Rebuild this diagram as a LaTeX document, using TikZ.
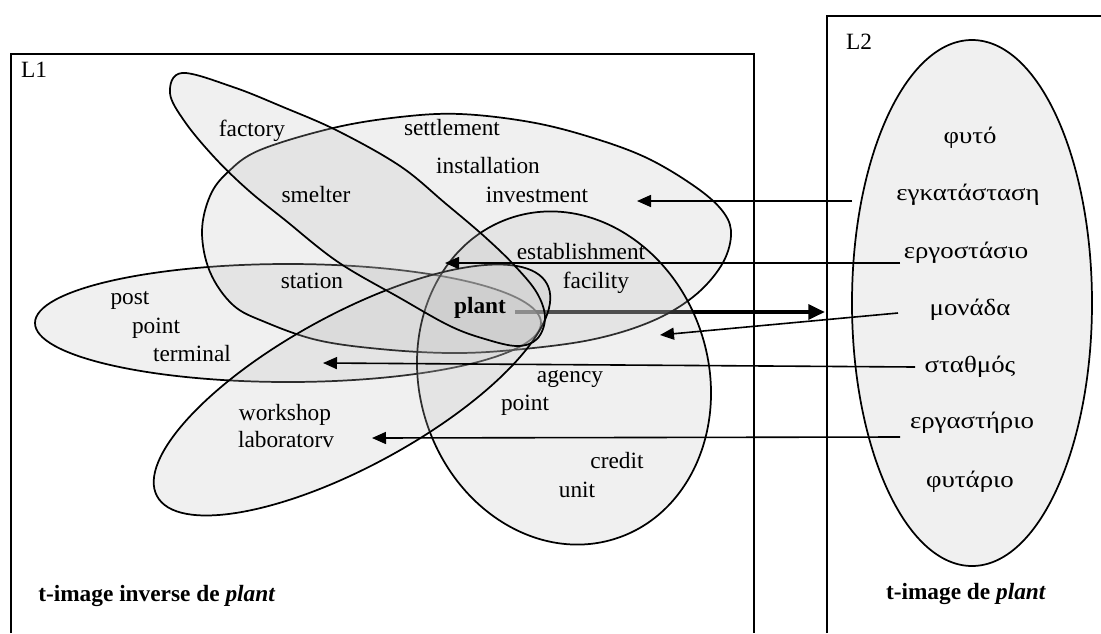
\documentclass[tikz,border=0pt]{standalone}
\usepackage{fontspec}
\setmainfont{Liberation Serif}
\newfontfamily\greekfont{Liberation Serif}[FakeStretch=1.15]
\usetikzlibrary{arrows.meta}
\begin{document}
\begin{tikzpicture}[x=0.75pt,y=-0.75pt,
  word/.style={inner sep=0pt, anchor=base, font=\fontsize{17.5}{20}\selectfont},
  gword/.style={inner sep=0pt, anchor=base, font=\greekfont\fontsize{17.5}{20}\selectfont},
  region/.style={draw=black, line width=1.3pt, fill=black!25, fill opacity=0.24},
  frame/.style={line width=1.5pt},
  link/.style={line width=1.2pt, -{Triangle[length=10.5pt,width=9pt]}},
  mainlink/.style={line width=3pt, -{Triangle[length=12.5pt,width=11pt]}}]
\useasboundingbox (0,0) rectangle (1101,633);
% frames
\draw[frame] (11,633) -- (11,54) -- (754,54) -- (754,633);
\draw[frame] (827,633) -- (827,16) -- (1101,16);
% main arrow (under the regions)
\coordinate (pstart) at (515,312);
\coordinate (pend) at (825,312);
\draw[mainlink] (pstart) -- (pend);
% regions
\draw[region] (288,323) ellipse [x radius=253, y radius=59];
\draw[region] plot[smooth cycle, tension=0.6] coordinates {(202,232) (210,196) (228,172) (260,150) (333,128) (400,117) (460,114) (530,122) (590,137) (647,158) (697,188) (724,213) (731,236) (721,266) (693,297) (650,322) (590,340) (513,350) (450,353) (380,349) (317,340) (265,322) (233,305) (210,272)};
\draw[region, rotate around={18:(564,378)}] (564,378) ellipse [x radius=144.5, y radius=168.7];
\draw[region, rotate around={28.6:(352,390)}] (352,390) ellipse [x radius=222, y radius=76];
\draw[region] plot[smooth cycle, tension=0.6] coordinates {(182,73) (233,87) (283,107) (338,131) (400,166) (445,203) (485,237) (515,266) (537,293) (545,318) (537,339) (517,346) (485,339) (450,326) (400,298) (338,262) (285,220) (248,190) (215,158) (185,122) (170,93)};
\draw[region] (972,303) ellipse [x radius=120, y radius=263];
% labels L1
\node[word] (L1) at (34,77) {L1};
\node[word] (L2) at (859,49) {L2};
\node[word] (factory) at (252,136) {factory};
\node[word] (settlement) at (452,135) {settlement};
\node[word] (installation) at (488,173) {installation};
\node[word] (investment) at (537,202) {investment};
\node[word] (smelter) at (316,202) {smelter};
\node[word] (station) at (312,288) {station};
\node[word] (establishment) at (581,259) {establishment};
\node[word] (facility) at (596,288) {facility};
\node[word, font=\fontsize{17.5}{20}\selectfont\bfseries] (plant) at (480,313) {plant};
\node[word] (post) at (130,304) {post};
\node[word] (point1) at (156,333) {point};
\node[word] (terminal) at (192,361) {terminal};
\node[word] (workshop) at (285,420) {workshop};
\node[word] (laboratory) at (286,447) {laboratorv};
\node[word] (agency) at (570,382) {agency};
\node[word] (point2) at (525,410) {point};
\node[word] (credit) at (617,468) {credit};
\node[word] (unit) at (577,497) {unit};
\node[word, anchor=base west, font=\fontsize{17.5}{20}\selectfont\bfseries] (inv) at (38,601) {t-image inverse de \textit{plant}};
\node[word, font=\fontsize{17.5}{20}\selectfont\bfseries] (img) at (966,599) {t-image de \textit{plant}};
% labels L2
\node[gword] (g1) at (970,143) {φυτό};
\node[gword] (g2) at (968,200) {εγκατάσταση};
\node[gword] (g3) at (966,258) {εργοστάσιο};
\node[gword] (g4) at (970,315) {μονάδα};
\node[gword] (g5) at (970,372) {σταθμός};
\node[gword] (g6) at (972,428) {εργαστήριο};
\node[gword] (g7) at (970,487) {φυτάριο};
% thin arrows
\coordinate (s1) at (852,201); \coordinate (t1) at (637,201);
\coordinate (s2) at (900,263); \coordinate (t2) at (445,263);
\coordinate (s4) at (898,313); \coordinate (t4) at (660,335);
\coordinate (s5) at (915,367); \coordinate (t5) at (323,363);
\coordinate (s6) at (900,437); \coordinate (t6) at (372,438);
\draw[link] (s1) -- (t1);
\draw[link] (s2) -- (t2);
\draw[link] (s4) -- (t4);
\draw[link] (s5) -- (t5);
\draw[link] (s6) -- (t6);
\end{tikzpicture}
\end{document}
